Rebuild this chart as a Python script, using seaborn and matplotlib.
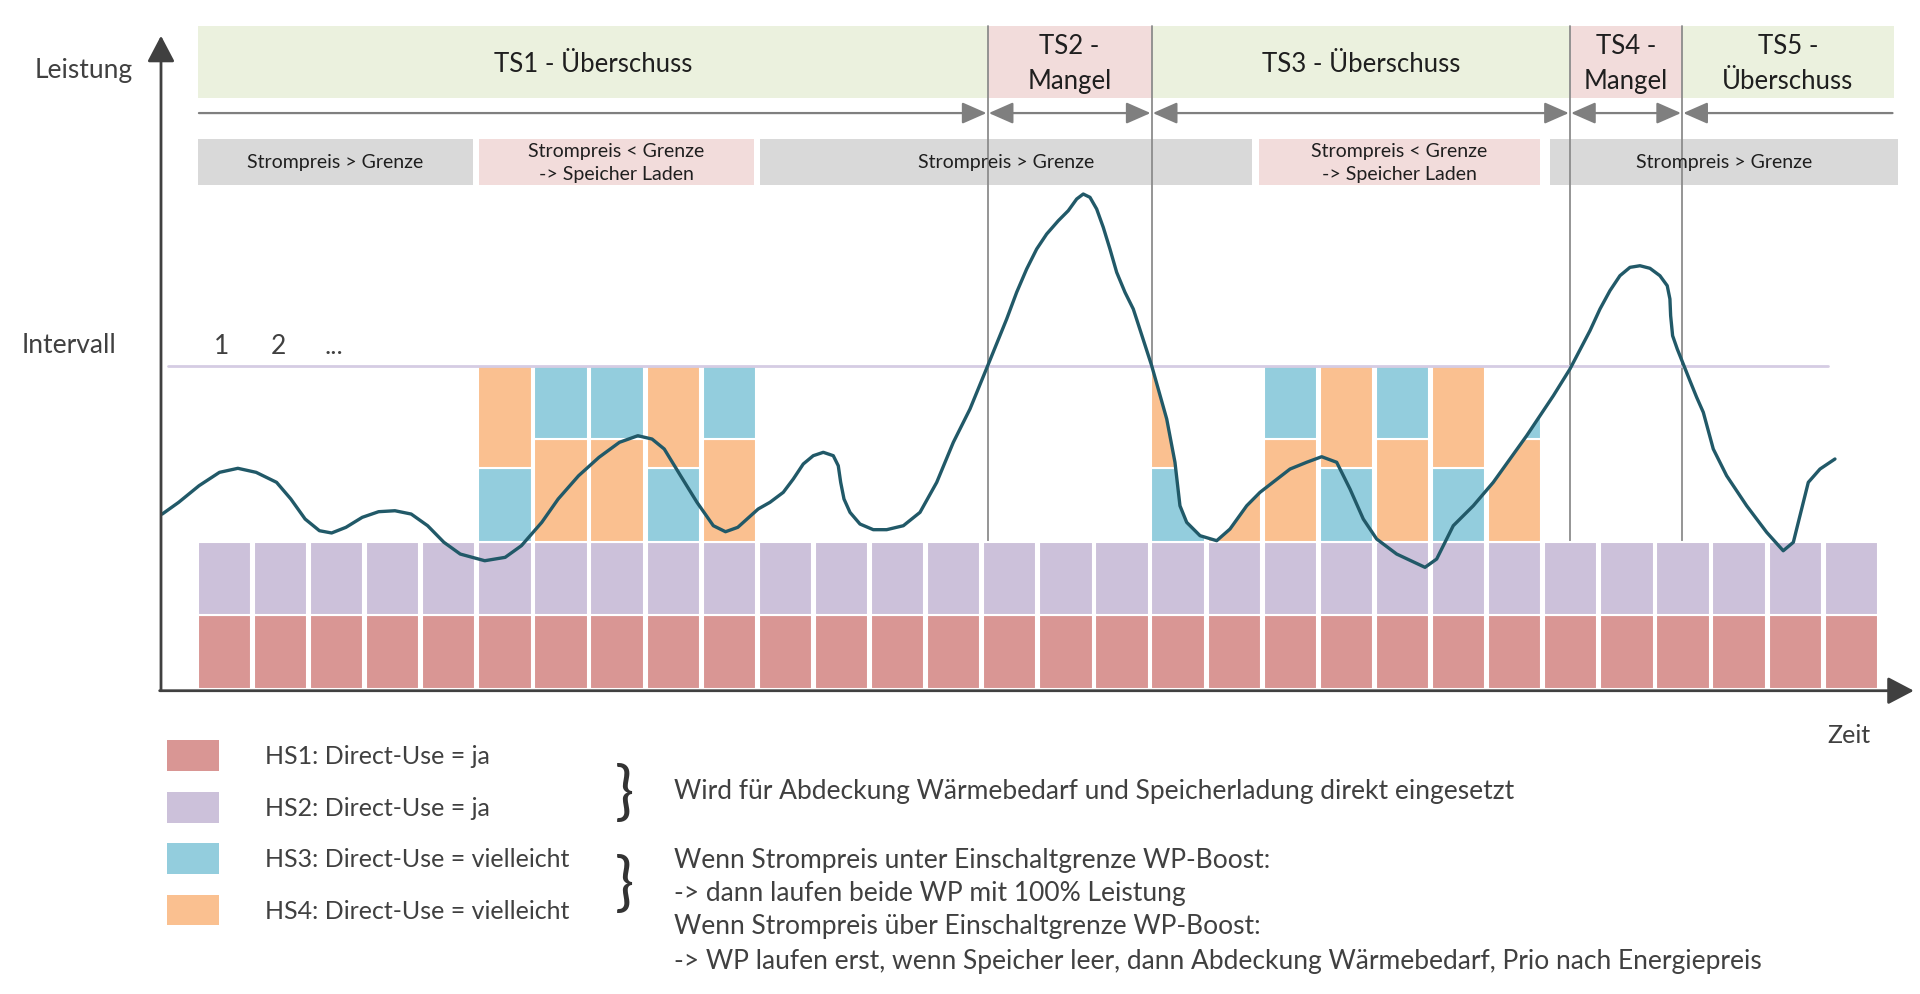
import matplotlib
matplotlib.use("Agg")
import matplotlib.pyplot as plt
import seaborn as sns
import pandas as pd
from matplotlib.patches import Rectangle, Polygon

# ---------------- data ----------------
intervals = list(range(30))
hs1 = [1, 1, 1, 1, 1, 1, 1, 1, 1, 1, 1, 1, 1, 1, 1, 1, 1, 1, 1, 1, 1, 1, 1, 1, 1, 1, 1, 1, 1, 1]
hs2 = [1, 1, 1, 1, 1, 1, 1, 1, 1, 1, 1, 1, 1, 1, 1, 1, 1, 1, 1, 1, 1, 1, 1, 1, 1, 1, 1, 1, 1, 1]
hs3 = [0, 0, 0, 0, 0, 1, 1, 1, 1, 1, 0, 0, 0, 0, 0, 0, 0, 1, 1, 1, 1, 1, 1, 1, 0, 0, 0, 0, 0, 0]
hs4 = [0, 0, 0, 0, 0, 1.4, 1.4, 1.4, 1.4, 1.4, 0, 0, 0, 0, 0, 0, 0,
       1.4, 1.4, 1.4, 1.4, 1.4, 1.4, 1.4, 0, 0, 0, 0, 0, 0]
lower_unit = ["", "", "", "", "", "HS3", "HS4", "HS4", "HS3", "HS4", "", "", "", "", "", "", "",
              "HS3", "HS4", "HS4", "HS3", "HS4", "HS3", "HS4", "", "", "", "", "", ""]
clipped = [17, 18, 23]

curve_x = [-0.634, -0.342, 0.022, 0.386, 0.714, 1.040, 1.404, 1.658, 1.913, 2.168, 2.385, 2.641,
           2.931, 3.223, 3.514, 3.804, 4.097, 4.387, 4.678, 5.115, 5.479, 5.769, 6.132, 6.424,
           6.788, 7.152, 7.516, 7.844, 8.097, 8.315, 8.606, 8.898, 9.190, 9.407, 9.626, 9.990,
           10.200, 10.437, 10.615, 10.793, 10.971, 11.150, 11.328, 11.417, 11.460, 11.519, 11.626,
           11.804, 12.041, 12.280, 12.577, 12.874, 13.172, 13.468, 13.765, 14.081,
           14.419, 14.597, 14.775, 14.954, 15.132, 15.339, 15.517, 15.667, 15.784, 15.904, 16.023,
           16.141, 16.260, 16.380, 16.528, 16.676, 16.736,
           17.004, 17.272, 17.419, 17.508, 17.628, 17.866, 18.163, 18.400, 18.698, 18.935, 19.470,
           19.766, 20.034, 20.302, 20.539, 20.776, 21.014, 21.371, 21.876, 22.084, 22.380, 22.737,
           23.093, 23.688, 24.164, 24.460,
           24.817, 24.995, 25.173, 25.351, 25.530, 25.708, 25.886, 26.064, 26.194, 26.242, 26.255,
           26.290, 26.373, 26.480, 26.599, 26.719,
           26.837, 27.015, 27.253, 27.610, 27.967, 28.262, 28.442, 28.560, 28.709, 28.917, 29.184]
curve_y = [2.377, 2.536, 2.763, 2.945, 3.000, 2.945, 2.809, 2.582, 2.309, 2.150, 2.119, 2.196,
           2.332, 2.409, 2.422, 2.377, 2.218, 1.992, 1.832, 1.741, 1.787, 1.946, 2.264, 2.582,
           2.899, 3.150, 3.354, 3.444, 3.399, 3.263, 2.899, 2.537, 2.218, 2.136, 2.196, 2.446,
           2.537, 2.673, 2.854, 3.059, 3.172, 3.218, 3.172, 3.035, 2.809, 2.582, 2.400,
           2.241, 2.164, 2.164, 2.218, 2.400, 2.809, 3.354, 3.808, 4.398,
           5.034, 5.398, 5.715, 5.988, 6.192, 6.373, 6.510, 6.669, 6.737, 6.692, 6.533,
           6.283, 5.988, 5.670, 5.398, 5.170, 5.030,
           4.398, 3.672, 3.082, 2.490, 2.264, 2.082, 2.014, 2.173, 2.490, 2.673, 2.990,
           3.082, 3.158, 3.082, 2.718, 2.309, 2.037, 1.832, 1.651, 1.764, 2.218, 2.490,
           2.809, 3.444, 3.989, 4.353,
           4.875, 5.170, 5.420, 5.624, 5.738, 5.760, 5.725, 5.624, 5.488, 5.307, 5.079,
           4.807, 4.625, 4.421, 4.193, 3.967,
           3.763, 3.263, 2.899, 2.490, 2.128, 1.877, 1.992, 2.354, 2.809, 2.990, 3.127]

ts_labels = ["TS1 - Überschuss", "TS2 -\nMangel", "TS3 - Überschuss", "TS4 -\nMangel", "TS5 -\nÜberschuss"]
ts_bounds = [0.0, 14.08, 17.004, 24.46, 26.46, 30.23]
ts_kind = ["surplus", "deficit", "surplus", "deficit", "surplus"]

price_labels = ["Strompreis > Grenze", "Strompreis < Grenze\n-> Speicher Laden", "Strompreis > Grenze",
                "Strompreis < Grenze\n-> Speicher Laden", "Strompreis > Grenze"]
price_start = [0.0, 5.01, 10.03, 18.91, 24.11]
price_end = [4.90, 9.92, 18.80, 23.93, 30.31]
price_kind = ["high", "low", "high", "low", "high"]

interval_ticks = ["1", "2", "..."]

legend_labels = ["HS1: Direct-Use = ja", "HS2: Direct-Use = ja",
                 "HS3: Direct-Use = vielleicht", "HS4: Direct-Use = vielleicht"]
note_top = "Wird für Abdeckung Wärmebedarf und Speicherladung direkt eingesetzt"
note_bottom = ["Wenn Strompreis unter Einschaltgrenze WP-Boost:",
               "-> dann laufen beide WP mit 100% Leistung",
               "Wenn Strompreis über Einschaltgrenze WP-Boost:",
               "-> WP laufen erst, wenn Speicher leer, dann Abdeckung Wärmebedarf, Prio nach Energiepreis"]

# ---------------- style ----------------
sns.set_theme(style="white")
plt.rcParams["font.family"] = ["Lato", "DejaVu Sans"]

C_HS1, C_HS2, C_HS3, C_HS4 = "#D99694", "#CCC1DA", "#93CDDD", "#FAC090"
C_CURVE = "#215968"
C_GREEN, C_PINK, C_GREY = "#EBF1DE", "#F2DCDB", "#D9D9D9"
C_TXT = "#404040"
C_DARK = "#1F1F1F"

fig = plt.figure(figsize=(19.2, 9.95), dpi=100)
ax = fig.add_axes([0, 0, 1, 1])
ax.set_xlim(-3.526, 30.70)
ax.set_ylim(-4.162, 9.394)
ax.axis("off")

# ---------- banners ----------
for i, lab in enumerate(ts_labels):
    x0, x1 = ts_bounds[i], ts_bounds[i + 1]
    ax.add_patch(Rectangle((x0, 8.045), x1 - x0, 0.985, fc=C_GREEN if ts_kind[i] == "surplus" else C_PINK,
                           ec="none", zorder=1))
    ax.text((x0 + x1) / 2, 8.52, lab, ha="center", va="center", fontsize=18.5, color=C_DARK,
            linespacing=1.5, zorder=6)

# arrow row
arrow_kw = dict(color="#7F7F7F", lw=1.6, shrinkA=0, shrinkB=0, mutation_scale=20)
for i in range(len(ts_labels)):
    x0, x1 = ts_bounds[i], ts_bounds[i + 1]
    if i == 0:
        style = "-|>,head_length=0.75,head_width=0.33"
    elif i == len(ts_labels) - 1:
        style = "<|-,head_length=0.75,head_width=0.33"
    else:
        style = "<|-|>,head_length=0.75,head_width=0.33"
    ax.annotate("", xy=(x1 - 0.02, 7.84), xytext=(x0 + 0.02, 7.84),
                arrowprops=dict(arrowstyle=style, **arrow_kw), zorder=3)

# price boxes
for lab, x0, x1, k in zip(price_labels, price_start, price_end, price_kind):
    ax.add_patch(Rectangle((x0, 6.86), x1 - x0, 0.63, fc=C_GREY if k == "high" else C_PINK, ec="none", zorder=1))
    ax.text((x0 + x1) / 2, 7.175, lab, ha="center", va="center", fontsize=14, color=C_DARK,
            linespacing=1.45, zorder=6)

# boundary lines
for xb in ts_bounds[1:-1]:
    ax.plot([xb, xb], [0, 9.03], color="#8C8C8C", lw=1.3, zorder=3)

# interval line and labels
ax.plot([-0.535, 29.06], [4.4, 4.4], color="#D5CCE3", lw=2, zorder=4.5)
for j, t in enumerate(interval_ticks):
    ax.text(j + 0.43, 4.68, t, ha="center", va="center", fontsize=19, color=C_TXT)

# ---------- bars ----------
df = pd.DataFrame({"interval": intervals, "HS1": hs1, "HS2": hs2, "HS3": hs3, "HS4": hs4, "lower": lower_unit})
clip_poly = Polygon(list(zip(curve_x, curve_y)) + [(curve_x[-1], 0), (curve_x[0], 0)],
                    closed=True, transform=ax.transData, fc="none", ec="none")
bar_kw = dict(width=0.95, align="edge", edgecolor="white", linewidth=1.5, zorder=4)
ax.bar(df["interval"], df["HS1"], color=C_HS1, **bar_kw)
ax.bar(df["interval"], df["HS2"], bottom=df["HS1"], color=C_HS2, **bar_kw)
for _, r in df.iterrows():
    if not r["lower"]:
        continue
    base = r["HS1"] + r["HS2"]
    order = ["HS3", "HS4"] if r["lower"] == "HS3" else ["HS4", "HS3"]
    for key in order:
        bc = ax.bar([r["interval"]], [r[key]], bottom=[base], color=C_HS3 if key == "HS3" else C_HS4, **bar_kw)
        if r["interval"] in clipped:
            for p in bc.patches:
                p.set_clip_path(clip_poly)
        base += r[key]

# ---------- curve ----------
sns.lineplot(x=curve_x, y=curve_y, ax=ax, color=C_CURVE, lw=2.4, estimator=None, sort=False, zorder=5,
             solid_joinstyle="round", solid_capstyle="round")

# ---------- axes arrows ----------
ax_kw = dict(arrowstyle="-|>,head_length=0.8,head_width=0.42", color="#404040", lw=2,
             shrinkA=0, shrinkB=0, mutation_scale=20)
ax.annotate("", xy=(-0.656, 8.894), xytext=(-0.656, -0.03), arrowprops=ax_kw, zorder=6)
ax.annotate("", xy=(30.59, -0.03), xytext=(-0.68, -0.03), arrowprops=ax_kw, zorder=6)
ax.text(-2.04, 8.44, "Leistung", ha="center", va="center", fontsize=19, color=C_TXT)
ax.text(-2.30, 4.69, "Intervall", ha="center", va="center", fontsize=19, color=C_TXT)
ax.text(29.43, -0.633, "Zeit", ha="center", va="center", fontsize=18, color=C_TXT)

# ---------- legend ----------
leg_y = [-0.916, -1.617, -2.318, -3.018]
for lab, yc, c in zip(legend_labels, leg_y, [C_HS1, C_HS2, C_HS3, C_HS4]):
    ax.add_patch(Rectangle((-0.549, yc - 0.21), 0.92, 0.42, fc=c, ec="none"))
    ax.text(1.19, yc, lab, ha="left", va="center", fontsize=18, color=C_TXT)

ax.text(7.6, -1.43, "}", ha="center", va="center", fontsize=46, color="#333333")
ax.text(7.6, -2.67, "}", ha="center", va="center", fontsize=46, color="#333333")
ax.text(8.49, -1.392, note_top, ha="left", va="center", fontsize=19, color=C_TXT)
for t, yy in zip(note_bottom, [-2.323, -2.777, -3.232, -3.708]):
    ax.text(8.49, yy, t, ha="left", va="center", fontsize=19, color=C_TXT)

fig.savefig("out.png", dpi=100)
